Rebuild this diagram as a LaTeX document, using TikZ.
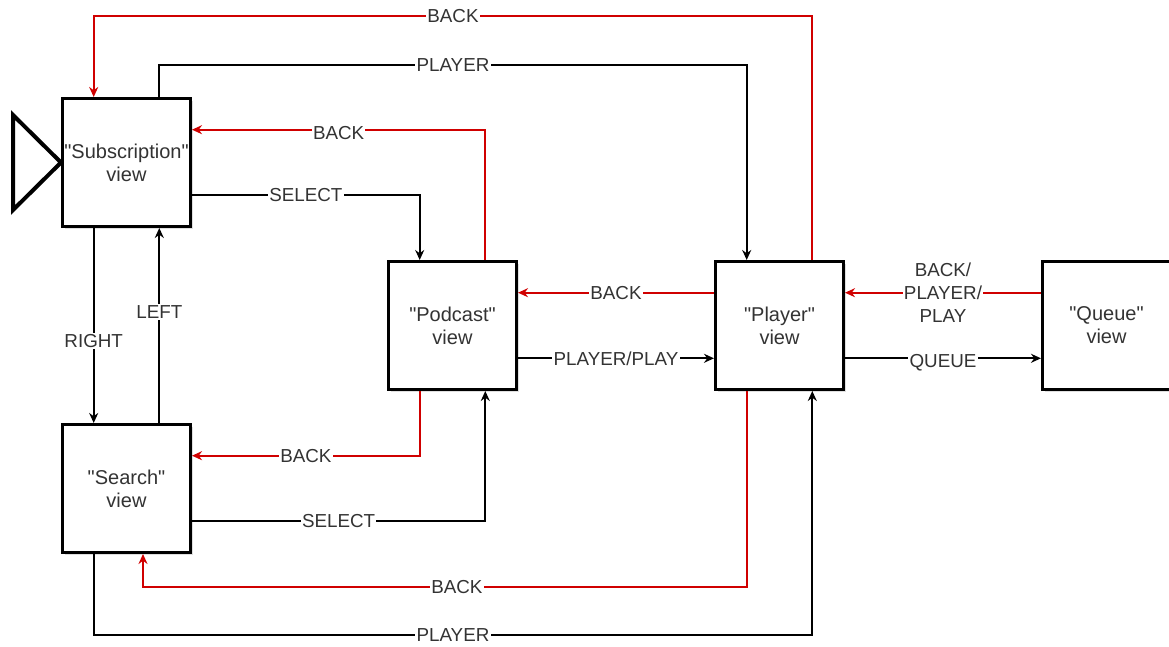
\documentclass[tikz,border=0pt]{standalone}
\usepackage{fontspec}
\setmainfont{Liberation Sans}
\usepackage{xcolor}
\usepackage{tikz}
\usetikzlibrary{arrows.meta,positioning,shadows}

\definecolor{backred}{HTML}{D00000}
\definecolor{labelgray}{HTML}{333333}

\begin{document}
\begin{tikzpicture}[
    x=0.5pt, y=-0.5pt,
    view/.style={rectangle, draw, line width=1.5pt, fill=white, minimum size=64pt, inner sep=0.5pt,
        align=center, text=labelgray, font=\fontsize{10}{11.5}\selectfont,
        drop shadow={shadow xshift=1.2pt, shadow yshift=-1.2pt, opacity=0.25}},
    link/.style={->, line width=0.9pt},
    back/.style={link, draw=backred},
    lbl/.style={fill=white, inner sep=0.6pt, text=labelgray, font=\fontsize{9.4}{11.5}\selectfont},
    >={Stealth[length=5pt, width=4.5pt]},
    node distance=97.5pt
]
    \useasboundingbox (0,0) rectangle (1169,647);

    % Views
    \node[view] (sub) at (126.5,162.5) {\textquotedbl Subscription\textquotedbl\\view};
    \node[view, below=of sub] (search) {\textquotedbl Search\textquotedbl\\view};
    \node[view, below right=16pt and 97.5pt of sub] (podcast) {\textquotedbl Podcast\textquotedbl\\view};
    \node[view, right=98pt of podcast] (player) {\textquotedbl Player\textquotedbl\\view};
    \node[view, right=98pt of player] (queue) {\textquotedbl Queue\textquotedbl\\view};

    % Entry marker
    \draw[line width=2pt, fill=white] ([xshift=-24pt, yshift=23.75pt]sub.west) -- (sub.west)
        -- ([xshift=-24pt, yshift=-23.75pt]sub.west) -- cycle;

    % Top routes
    \draw[back] ([xshift=16.4pt]player.north) -- ++(0,122pt) -| ([xshift=-16.4pt]sub.north)
        node[lbl, pos=0.25] {BACK};
    \draw[link] ([xshift=16.4pt]sub.north) -- ++(0,16pt) -| ([xshift=-16.4pt]player.north)
        node[lbl, pos=0.25] {PLAYER};

    % Subscription <-> Podcast
    \draw[back] ([xshift=16.4pt]podcast.north) |- ([yshift=16.4pt]sub.east)
        node[lbl, pos=0.75, yshift=-1.5pt] {BACK};
    \draw[link] ([yshift=-16.4pt]sub.east) -| ([xshift=-16.4pt]podcast.north)
        node[lbl, pos=0.25] {SELECT};

    % Subscription <-> Search
    \draw[link] ([xshift=-16.4pt]sub.south) -- ([xshift=-16.4pt]search.north)
        node[lbl, pos=0.58] {RIGHT};
    \draw[link] ([xshift=16.4pt]search.north) -- ([xshift=16.4pt]sub.south)
        node[lbl, pos=0.57] {LEFT};

    % Search <-> Podcast
    \draw[back] ([xshift=-16.4pt]podcast.south) |- ([yshift=16.4pt]search.east)
        node[lbl, pos=0.75] {BACK};
    \draw[link] ([yshift=-16.4pt]search.east) -| ([xshift=16.4pt]podcast.south)
        node[lbl, pos=0.25] {SELECT};

    % Podcast <-> Player
    \draw[back] ([yshift=16.4pt]player.west) -- ([yshift=16.4pt]podcast.east)
        node[lbl, midway] {BACK};
    \draw[link] ([yshift=-16.4pt]podcast.east) -- ([yshift=-16.4pt]player.west)
        node[lbl, midway] {PLAYER/PLAY};

    % Player <-> Queue
    \draw[back] ([yshift=16.4pt]queue.west) -- ([yshift=16.4pt]player.east)
        node[lbl, midway, align=center] {BACK/\\PLAYER/\\PLAY};
    \draw[link] ([yshift=-16.4pt]player.east) -- ([yshift=-16.4pt]queue.west)
        node[lbl, midway, yshift=-2pt] {QUEUE};

    % Bottom routes
    \draw[back] ([xshift=-16.4pt]player.south) -- ++(0,-98pt) -| ([xshift=8.25pt]search.south)
        node[lbl, pos=0.24] {BACK};
    \draw[link] ([xshift=-16.4pt]search.south) -- ++(0,-40.5pt) -| ([xshift=16.4pt]player.south)
        node[lbl, pos=0.25] {PLAYER};
\end{tikzpicture}
\end{document}
